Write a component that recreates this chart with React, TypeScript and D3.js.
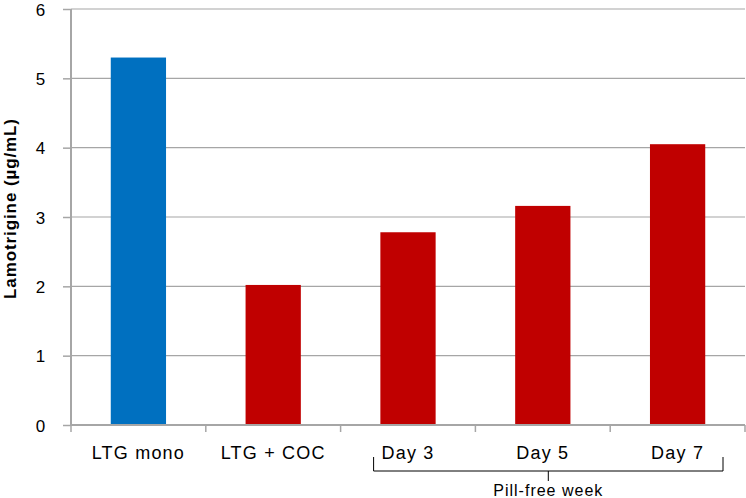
import { useEffect, useRef } from "react";
import * as d3 from "d3";

const CATEGORIES = ["LTG mono", "LTG + COC", "Day 3", "Day 5", "Day 7"];
const VALUES = [5.3, 2.02, 2.78, 3.16, 4.05];
const BAR_COLORS = ["#0070C0", "#C00000", "#C00000", "#C00000", "#C00000"];
const Y_TICKS = [0, 1, 2, 3, 4, 5, 6];
const Y_LABEL = "Lamotrigine (µg/mL)";
const GROUP_LABEL = "Pill-free week";
const GROUP_CATS = ["Day 3", "Day 7"];

export default function App() {
  const svgRef = useRef<SVGSVGElement | null>(null);

  useEffect(() => {
    if (!svgRef.current) return;
    const W = 746, H = 498;
    const margin = { top: 9, right: 1, bottom: 73, left: 71 };
    const innerW = W - margin.left - margin.right;
    const innerH = H - margin.top - margin.bottom;

    const svg = d3.select(svgRef.current);
    svg.selectAll("*").remove();
    svg.attr("width", W).attr("height", H);

    const g = svg.append("g").attr("transform", `translate(${margin.left},${margin.top})`);
    const font = "Arial, 'Liberation Sans', sans-serif";

    const x = d3.scaleBand().domain(CATEGORIES).range([0, innerW]).paddingInner(0.59).paddingOuter(0.295);
    const xTicks = d3.scaleBand().domain(CATEGORIES).range([0, innerW]);
    const y = d3.scaleLinear().domain([0, 6]).range([innerH, 0]);

    // gridlines
    g.append("g")
      .selectAll("line")
      .data(Y_TICKS.filter((t) => t > 0))
      .join("line")
      .attr("x1", 0).attr("x2", innerW)
      .attr("y1", (d) => y(d)).attr("y2", (d) => y(d))
      .attr("stroke", "#a6a6a6").attr("stroke-width", 1.2);

    // bars
    g.append("g")
      .selectAll("rect")
      .data(CATEGORIES)
      .join("rect")
      .attr("x", (d) => x(d) ?? 0)
      .attr("width", x.bandwidth())
      .attr("y", (_, i) => y(VALUES[i]))
      .attr("height", (_, i) => innerH - y(VALUES[i]))
      .attr("fill", (_, i) => BAR_COLORS[i]);

    // y axis
    const yAxis = g.append("g").call(d3.axisLeft(y).tickValues(Y_TICKS).tickSize(8).tickFormat(d3.format("d")));
    yAxis.select(".domain").attr("stroke", "#a6a6a6").attr("stroke-width", 2).attr("d", `M0,${innerH}V0`);
    yAxis.selectAll(".tick line").attr("stroke", "#a6a6a6").attr("stroke-width", 1.5);
    yAxis.selectAll(".tick text")
      .attr("font-family", font).attr("font-size", 17).attr("fill", "#000")
      .attr("dx", -14).attr("dy", "0.36em")
      .attr("text-anchor", "end").attr("letter-spacing", 0.8);

    // x axis
    const xa = g.append("g").attr("transform", `translate(0,${innerH})`);
    xa.append("line").attr("x1", 0).attr("x2", innerW).attr("stroke", "#a6a6a6").attr("stroke-width", 2);
    const edges = CATEGORIES.map((c) => (xTicks(c) ?? 0) + xTicks.bandwidth());
    xa.selectAll("line.tk")
      .data([0, ...edges])
      .join("line")
      .attr("class", "tk")
      .attr("x1", (d) => d).attr("x2", (d) => d)
      .attr("y1", 0).attr("y2", 7)
      .attr("stroke", "#a6a6a6").attr("stroke-width", 1.5);
    xa.selectAll("text")
      .data(CATEGORIES)
      .join("text")
      .attr("x", (d) => (x(d) ?? 0) + x.bandwidth() / 2)
      .attr("y", 34)
      .attr("text-anchor", "middle")
      .attr("font-family", font).attr("font-size", 18).attr("letter-spacing", 1.2).attr("fill", "#000")
      .text((d) => d);

    // bracket for pill-free week
    const bx1 = (xTicks(GROUP_CATS[0]) ?? 0) + 33;
    const bx2 = (xTicks(GROUP_CATS[1]) ?? 0) + xTicks.bandwidth() - 22;
    const bMid = (bx1 + bx2) / 2;
    xa.append("path")
      .attr("d", `M${bx1},32V46H${bx2}V32M${bMid},46V56`)
      .attr("fill", "none").attr("stroke", "#000").attr("stroke-width", 1);
    xa.append("text")
      .attr("x", bMid).attr("y", 71)
      .attr("text-anchor", "middle")
      .attr("font-family", font).attr("font-size", 16).attr("letter-spacing", 1).attr("fill", "#000")
      .text(GROUP_LABEL);

    // y label
    g.append("text")
      .attr("transform", "rotate(-90)")
      .attr("x", -199.5).attr("y", -55)
      .attr("text-anchor", "middle")
      .attr("font-family", font).attr("font-size", 17).attr("letter-spacing", 0.9)
      .attr("font-weight", "bold").attr("fill", "#000")
      .text(Y_LABEL);
  }, []);

  return <svg ref={svgRef} style={{ position: "absolute", left: 0, top: 0, display: "block", background: "#fff" }} />;
}
